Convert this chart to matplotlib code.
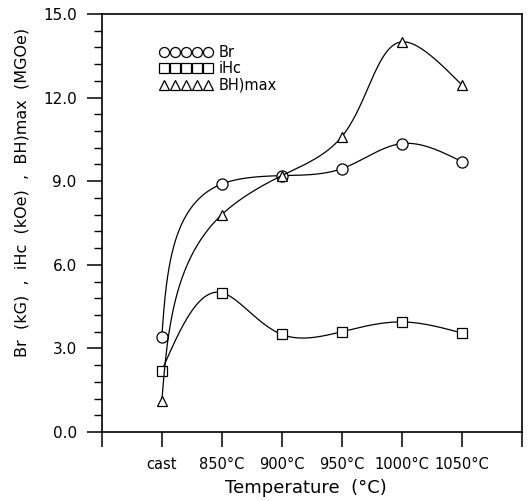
import matplotlib
matplotlib.use('Agg')
import matplotlib.pyplot as plt
from matplotlib.lines import Line2D
import numpy as np

# values
temps = ['cast', '850°C', '900°C', '950°C', '1000°C', '1050°C']
br = [3.4, 8.9, 9.2, 9.45, 10.35, 9.7]
ihc = [2.2, 5.0, 3.5, 3.6, 3.95, 3.55]
bhmax = [1.1, 7.8, 9.2, 10.6, 14.0, 12.45]

plt.rcParams['font.family'] = ['DejaVu Sans']


def nat_spline(t, y, tt):
    # natural cubic spline, second derivatives M
    n = len(t)
    h = np.diff(t)
    A = np.zeros((n, n))
    b = np.zeros(n)
    A[0, 0] = A[-1, -1] = 1
    for i in range(1, n - 1):
        A[i, i - 1] = h[i - 1]
        A[i, i] = 2 * (h[i - 1] + h[i])
        A[i, i + 1] = h[i]
        b[i] = 6 * ((y[i + 1] - y[i]) / h[i] - (y[i] - y[i - 1]) / h[i - 1])
    M = np.linalg.solve(A, b)
    out = np.empty_like(tt)
    for k, v in enumerate(tt):
        i = min(np.searchsorted(t, v, side='right') - 1, n - 2)
        i = max(i, 0)
        hi = h[i]
        a = t[i + 1] - v
        c = v - t[i]
        out[k] = (M[i] * a**3 / (6 * hi) + M[i + 1] * c**3 / (6 * hi)
                  + (y[i] / hi - M[i] * hi / 6) * a
                  + (y[i + 1] / hi - M[i + 1] * hi / 6) * c)
    return out


def smooth(xv, yv, sx=60.0, sy=31.0):
    # parametric spline, chord length in screen-ish units
    X = np.asarray(xv, float) * sx
    Y = np.asarray(yv, float) * sy
    d = np.hypot(np.diff(X), np.diff(Y))
    t = np.concatenate([[0], np.cumsum(d)])
    tt = np.linspace(0, t[-1], 600)
    return nat_spline(t, X, tt) / sx, nat_spline(t, Y, tt) / sy


fig = plt.figure(figsize=(5.28, 5.01), dpi=100)
ax = fig.add_axes([101.7 / 528, 1 - 432 / 501, (522 - 101.7) / 528, (432 - 14) / 501])

x = np.arange(len(temps))
series = [(br, 'o', 8), (ihc, 's', 7.5), (bhmax, '^', 7.5)]
for vals, m, ms in series:
    sx_, sy_ = smooth(x, vals)
    ax.plot(sx_, sy_, color='black', lw=0.9)
    ax.plot(x, vals, linestyle='none', marker=m, markersize=ms,
            markerfacecolor='white', markeredgecolor='black', markeredgewidth=0.9)

ax.set_xlim(-1, 6)
ax.set_ylim(0, 15)
ax.set_xticks(np.arange(-1, 7))
ax.set_xticklabels([''] + temps + [''])
ax.set_yticks(np.arange(0, 15.1, 3))
ax.set_yticks(np.arange(0, 15.1, 0.6), minor=True)
ax.yaxis.set_major_formatter(matplotlib.ticker.FormatStrFormatter('%.1f'))
ax.tick_params(axis='both', which='major', direction='out', length=11, width=1.1,
               labelsize=10.5, pad=7)
ax.tick_params(axis='y', which='major', labelsize=11)
ax.tick_params(axis='y', which='minor', direction='out', length=6, width=1)
for s in ax.spines.values():
    s.set_linewidth(1.2)

ax.set_xlabel('Temperature  (°C)', fontsize=13)
ax.xaxis.set_label_coords((306 - 101.7) / 420.3, -0.113)
ax.set_ylabel('Br  (kG)  ,  iHc  (kOe)  ,  BH)max  (MGOe)', fontsize=11.5)
ax.yaxis.set_label_coords((30 - 101.7) / 420.3, 0.572)

handles = [Line2D([], [], linestyle='none', marker=m, markersize=8,
                  markerfacecolor='white', markeredgecolor='black', markeredgewidth=0.9)
           for _, m, _ in series]
ax.legend(handles, ['Br', 'iHc', 'BH)max'], numpoints=5, handlelength=3.6,
          markerscale=0.9, frameon=False, fontsize=10.5, loc='upper left',
          bbox_to_anchor=(0.125, 0.94), labelspacing=0.1, handletextpad=0.4,
          borderaxespad=0)

fig.savefig('out.png', dpi=100)
